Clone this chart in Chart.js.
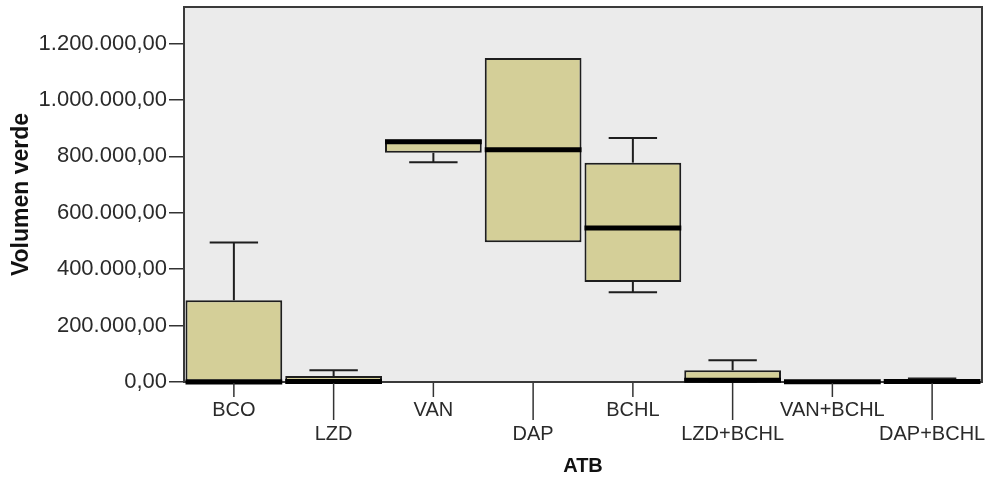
<!DOCTYPE html>
<html>
<head>
<meta charset="utf-8">
<script src="https://cdn.jsdelivr.net/npm/chart.js@4.4.1/dist/chart.umd.min.js"></script>
<style>
html,body{margin:0;padding:0;background:#fff;}
#wrap{width:988px;height:480px;position:relative;}
</style>
</head>
<body>
<div id="wrap"><canvas id="c" width="988" height="480"></canvas></div>
<script>
// ---- data ----
const categories = ['BCO','LZD','VAN','DAP','BCHL','LZD+BCHL','VAN+BCHL','DAP+BCHL'];
const mins    = [0,      0,     779000, 496000,  318000, 0,     0,    0];
const q1s     = [0,      0,     813000, 496000,  355000, 3000,  0,    0];
const medians = [0,      2000,  852000, 824000,  546000, 6000,  1000, 1500];
const q3s     = [290000, 21000, 860000, 1149000, 778000, 41500, 2000, 3000];
const maxs    = [495000, 41500, 860000, 1149000, 865000, 77000, 2000, 12000];
const yTicks  = [0, 200000, 400000, 600000, 800000, 1000000, 1200000];
const yMax = 1330000;

const FONT = "'Liberation Sans', Arial, sans-serif";
const plotBg = '#ebebeb';
const boxFill = '#d4cf98';
const ink = '#1e1e1e';

function fmt(v){
  const s = Math.round(v).toString().replace(/\B(?=(\d{3})+(?!\d))/g, '.');
  return s + ',00';
}

function noPad(scale){
  scale.paddingTop = 0; scale.paddingBottom = 0;
  scale.paddingLeft = 0; scale.paddingRight = 0;
}

const boxPlugin = {
  id: 'boxPlugin',
  beforeDraw(chart){
    const {ctx, chartArea:a} = chart;
    ctx.save();
    ctx.fillStyle = plotBg;
    ctx.fillRect(a.left, a.top, a.right - a.left, a.bottom - a.top);
    ctx.restore();
  },
  beforeDatasetsDraw(chart){
    const {ctx, chartArea:a} = chart;
    ctx.save();
    ctx.strokeStyle = '#3a3a3a';
    ctx.lineWidth = 2;
    ctx.strokeRect(a.left, a.top, a.right - a.left, a.bottom - a.top);
    ctx.restore();
  },
  afterDatasetsDraw(chart){
    const {ctx} = chart;
    const y = chart.scales.y;
    const meta = chart.getDatasetMeta(0);
    ctx.save();
    ctx.strokeStyle = ink;
    ctx.lineCap = 'butt';
    categories.forEach((c, i) => {
      const bar = meta.data[i];
      const x = bar.x, w = bar.width;
      const cap = w * 0.5;
      ctx.lineWidth = 2;
      if (maxs[i] > q3s[i]) {
        const y1 = y.getPixelForValue(q3s[i]), y2 = y.getPixelForValue(maxs[i]);
        ctx.beginPath(); ctx.moveTo(x, y1); ctx.lineTo(x, y2); ctx.stroke();
        ctx.beginPath(); ctx.moveTo(x - cap/2, y2); ctx.lineTo(x + cap/2, y2); ctx.stroke();
      }
      if (mins[i] < q1s[i]) {
        const y1 = y.getPixelForValue(q1s[i]), y2 = y.getPixelForValue(mins[i]);
        ctx.beginPath(); ctx.moveTo(x, y1); ctx.lineTo(x, y2); ctx.stroke();
        ctx.beginPath(); ctx.moveTo(x - cap/2, y2); ctx.lineTo(x + cap/2, y2); ctx.stroke();
      }
      const ym = y.getPixelForValue(medians[i]);
      ctx.lineWidth = 5;
      ctx.strokeStyle = '#000';
      ctx.beginPath(); ctx.moveTo(x - w/2, ym); ctx.lineTo(x + w/2, ym); ctx.stroke();
      ctx.strokeStyle = ink;
    });
    ctx.restore();
  },
  afterDraw(chart){
    const {ctx, chartArea:a} = chart;
    const xs = chart.scales.x;
    ctx.save();
    ctx.strokeStyle = '#333';
    ctx.lineWidth = 1.5;
    categories.forEach((c, i) => {
      const x = xs.getPixelForValue(i);
      const len = (i % 2 === 0) ? 15 : 38;
      ctx.beginPath(); ctx.moveTo(x, a.bottom + 1); ctx.lineTo(x, a.bottom + len); ctx.stroke();
    });
    ctx.restore();
  }
};

new Chart(document.getElementById('c'), {
  type: 'bar',
  data: {
    labels: categories,
    datasets: [{
      data: categories.map((c, i) => [q1s[i], q3s[i]]),
      backgroundColor: boxFill,
      borderColor: ink,
      borderWidth: 2,
      borderSkipped: false,
      barPercentage: 0.97,
      categoryPercentage: 1.0,
      clip: false
    }]
  },
  options: {
    responsive: false,
    animation: false,
    layout: { padding: { left: 0, top: 7, right: 6, bottom: 0 } },
    plugins: { legend: { display: false }, tooltip: { enabled: false } },
    scales: {
      x: {
        grid: { display: false, drawTicks: false },
        border: { display: false },
        ticks: {
          padding: 16,
          color: '#2a2a2a',
          font: { family: FONT, size: 20, lineHeight: 1.2 },
          autoSkip: false,
          maxRotation: 0,
          callback: function(v, i){ return (i % 2 === 0) ? [categories[i]] : ['', categories[i]]; }
        },
        title: {
          display: true, text: 'ATB', color: '#111',
          font: { family: FONT, size: 20, weight: 'bold', lineHeight: 1.2 },
          padding: { top: 0, bottom: 2 }
        },
        afterFit(scale){ scale.height = 98; noPad(scale); }
      },
      y: {
        min: 0, max: yMax,
        afterBuildTicks(scale){ scale.ticks = yTicks.map(v => ({ value: v })); },
        grid: { display: true, drawOnChartArea: false, drawTicks: true, tickLength: 15, color: '#333', lineWidth: 1.5 },
        border: { display: false },
        ticks: {
          padding: 2,
          color: '#2a2a2a',
          font: { family: FONT, size: 22 },
          callback: v => fmt(v)
        },
        title: {
          display: true, text: 'Volumen verde', color: '#111',
          font: { family: FONT, size: 23, weight: 'bold', lineHeight: 1.2 },
          padding: { top: 8, bottom: 0 }
        },
        afterFit(scale){ scale.width = 184; noPad(scale); }
      }
    }
  },
  plugins: [boxPlugin]
});
</script>
</body>
</html>
